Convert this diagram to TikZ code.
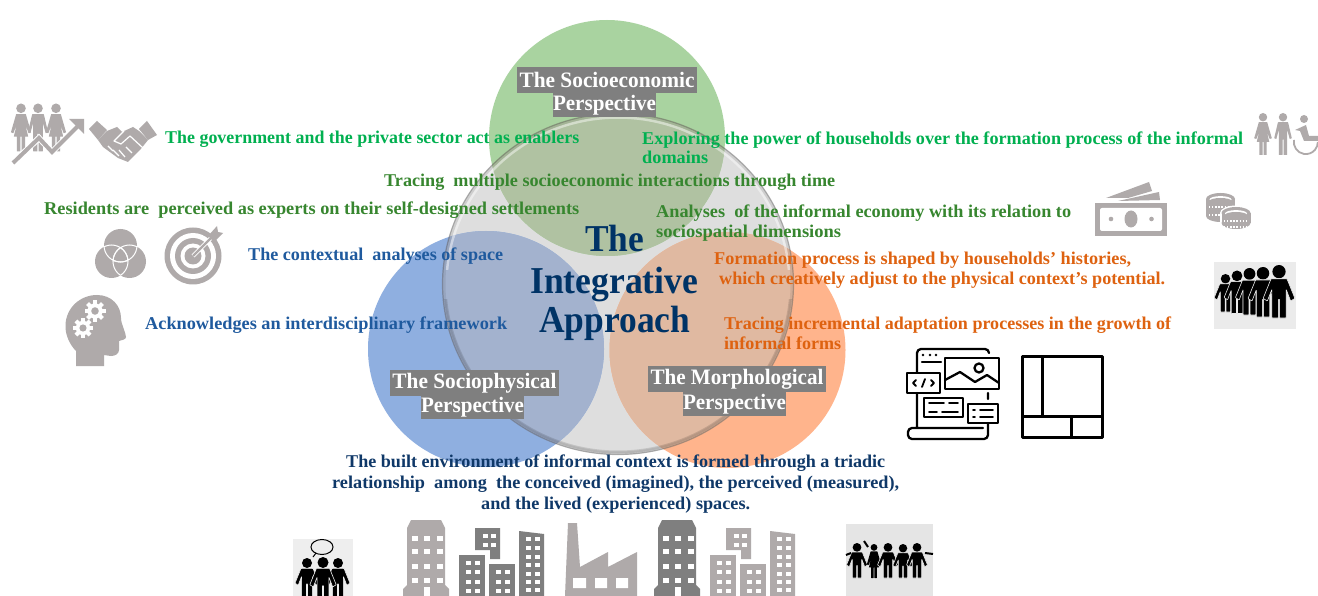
\documentclass[tikz,border=0pt]{standalone}
\usepackage{fontspec}
\usepackage{graphicx}
\setmainfont{Liberation Serif}
\definecolor{gA}{HTML}{00B050}
\definecolor{gB}{HTML}{37862F}
\definecolor{bA}{HTML}{1F5A9E}
\definecolor{oA}{HTML}{DE6210}
\definecolor{nA}{HTML}{0F3868}
\definecolor{tt}{HTML}{003366}
\definecolor{ic}{HTML}{AFAAAA}
\definecolor{icd}{HTML}{7F7F7F}
\definecolor{crowdbg}{HTML}{EBEBEB}
\definecolor{convbg}{HTML}{EEEEEE}
\definecolor{groupbg}{HTML}{E5E5E5}
\definecolor{bigdisc}{HTML}{DEDEDE}
\definecolor{discG}{HTML}{A9D3A0}
\definecolor{discB}{HTML}{8FAFE0}
\definecolor{discO}{HTML}{FFB48C}
\definecolor{lapG}{HTML}{B0C2A2}
\definecolor{lapB}{HTML}{A3B2CE}
\definecolor{lapO}{HTML}{E0B9A1}
\newcommand\txt[6]{\node[inner sep=0pt,anchor=base west,text=#5,font=\bfseries\fontsize{18pt}{20pt}\selectfont] (#1) at (#2,#3) {\resizebox{#4pt}{\height}{#6}};}
\newcommand\lbl[6]{\node[labelbox,minimum width=#4pt,minimum height=#5pt] (#1) at (#2,#3) {#6};}
\newcommand\ttl[5]{\node[inner sep=0pt,anchor=base west,text=tt,font=\bfseries\fontsize{38pt}{40pt}\selectfont] (#1) at (#2,#3) {\resizebox{#4pt}{\height}{#5}};}
% slim standing man
\newcommand\man[4]{\begin{scope}[shift={(#1,#2)},scale=#3]
 \fill[#4] (0,1) circle (1);
 \fill[#4,rounded corners=.3pt] (-1.2,2.2)--(1.2,2.2)--(2.1,6)--(1.6,6.2)--(1,4)--(1,10)--(.12,10)--(.12,6.3)--(-.12,6.3)--(-.12,10)--(-1,10)--(-1,4)--(-1.6,6.2)--(-2.1,6)--cycle;
\end{scope}}
% bulky man (black pictograms)
\newcommand\bulk[5]{\begin{scope}[shift={(#1,#2)},scale=#3]
 \fill[#4] (0,1.25) circle (1.25);
 \filldraw[fill=#4,draw=#5,line width=.6pt,rounded corners=.5pt] (-1.5,2.6)--(1.5,2.6)--(3,6.3)--(2.2,6.8)--(1.35,4.6)--(1.35,10)--(.12,10)--(.12,6.5)--(-.12,6.5)--(-.12,10)--(-1.35,10)--(-1.35,4.6)--(-2.2,6.8)--(-3,6.3)--cycle;
\end{scope}}
\newcommand\woman[4]{\begin{scope}[shift={(#1,#2)},scale=#3]
 \fill[#4] (0,1) circle (1);
 \fill[#4,rounded corners=.2pt] (-1,2.2)--(1,2.2)--(2.1,6)--(1.6,6.2)--(.9,4.4)--(1.5,6.9)--(.85,6.9)--(.85,10)--(.12,10)--(.12,6.9)--(-.12,6.9)--(-.12,10)--(-.85,10)--(-.85,6.9)--(-1.5,6.9)--(-.9,4.4)--(-1.6,6.2)--(-2.1,6)--cycle;
\end{scope}}
\newcommand\gearico[3]{\begin{scope}[shift={(#1,#2)},scale=#3]
 \fill[white] (0,0) circle (.72);
 \foreach \a in {0,45,...,315} {\fill[white,rotate=\a] (-.2,0) rectangle (.2,1);}
 \fill[ic] (0,0) circle (.36);
\end{scope}}
\newcommand\tower[3]{\begin{scope}[shift={(#1,#2)}]
 \fill[#3] (0,69)--(4,65)--(4,8)--(8,0)--(38,0)--(42,8)--(42,65)--(46,69)--(46,76)--(0,76)--cycle;
 \foreach \x in {9,21,34} \foreach \y in {16,29,44,58} {\fill[white] (\x,\y) rectangle +(5.5,5);}
 \fill[white] (21,67) rectangle (26.5,76);
\end{scope}}
\newcommand\bldg[2]{\foreach \x in {#1} \foreach \y in {#2} {\fill[white] (\x,\y) rectangle +(4.8,4.4);}}
\newcommand\city[3]{\begin{scope}[shift={(#1,#2)}]
 \fill[#3] (16,0) rectangle (41,22) (41,22)--(41,31)--(31,31)--(31,22)--cycle;
 \fill[#3] (0,27) rectangle (26,68);
 \fill[#3] (30,36) rectangle (56,68);
 \fill[#3] (60,3)--(85,6)--(85,68)--(60,68)--cycle;
 \bldg{24,32}{6,15}
 \bldg{7,16}{33,42,52,61}
 \bldg{37,46}{42,52,61}
 \bldg{67,76}{9,18,27,35,44,52,60}
\end{scope}}
\newcommand\coinstack[3]{%
 \fill[white] (#1,#2) ellipse (16 and 7.5);
 \fill[white] (#1-16,#2) rectangle (#1+16,#3);
 \fill[white] (#1,#3) ellipse (16 and 7.5);
 \fill[ic] (#1,#2) ellipse (14.5 and 6);
 \fill[ic] (#1-14.5,#2) rectangle (#1+14.5,#3);
 \fill[ic] (#1,#3) ellipse (14.5 and 6);
 \fill[white] (#1,#2+.5) ellipse (11 and 3.4);
 \fill[ic] (#1,#2+2) ellipse (11 and 3);
}
\tikzset{
 labelbox/.style={fill=icd,text=white,inner sep=0pt,font=\bfseries\fontsize{22pt}{23pt}\selectfont},
 webline/.style={draw=black,line width=2.3pt,line cap=round,line join=round},
 coindots/.style={draw=white,line width=1.3pt,dash pattern=on 1.3pt off 1.8pt}
}
\begin{document}
\begin{tikzpicture}[x=1pt,y=-1pt]
\useasboundingbox (0,0) rectangle (1318,596);
\coordinate (cG) at (607,138);
\coordinate (cB) at (486,349);
\coordinate (cO) at (727.5,350);
\coordinate (cI) at (618,284);
\fill[white] (0,0) rectangle (1318,596);
\fill[bigdisc] (cI) ellipse (176 and 171);
\fill[discG] (cG) circle (118);
\fill[discB] (cB) circle (118);
\fill[discO] (cO) circle (118);
\begin{scope}
 \clip (cI) ellipse (176 and 171);
 \fill[lapG] (cG) circle (118);
 \fill[lapB] (cB) circle (118);
 \fill[lapO] (cO) circle (118);
\end{scope}
% glass rim
\draw[draw=black,opacity=.22,line width=1.2pt] (cI) ellipse (175.5 and 170.5);
\draw[draw=black,opacity=.07,line width=3pt] (cI) ellipse (174 and 169);
\begin{scope}
 \clip (400,90) rectangle (840,270);
 \draw[draw=white,opacity=.45,line width=2.5pt] (cI) ellipse (171.5 and 166.5);
\end{scope}
\begin{scope}
 \clip (400,300) rectangle (840,470);
 \draw[draw=black,opacity=.12,line width=3pt] (cI) ellipse (173 and 168);
\end{scope}
% ----- title -----
\ttl{t1}{585}{252}{59}{The}
\ttl{t2}{530}{294}{168}{Integrative}
\ttl{t3}{539}{333}{151}{Approach}
% ----- label boxes -----
\lbl{l1a}{607}{80}{180}{26}{\resizebox{175pt}{\height}{The Socioeconomic}}
\lbl{l1b}{604.5}{105}{103}{24}{\resizebox{103pt}{\height}{Perspective}}
\lbl{l2a}{474.5}{383}{169}{26}{\resizebox{164pt}{\height}{The Sociophysical}}
\lbl{l2b}{472.5}{407.5}{103}{23}{\resizebox{103pt}{\height}{Perspective}}
\lbl{l3a}{737}{379}{178}{26}{\resizebox{173pt}{\height}{The Morphological}}
\lbl{l3b}{734.5}{404}{103}{24}{\resizebox{103pt}{\height}{Perspective}}
% ----- texts -----
\txt{a1}{165}{143.5}{414}{gA}{The government and the private sector act as enablers}
\txt{a2}{642}{144.5}{601}{gA}{Exploring the power of households over the formation process of the informal}
\txt{a3}{642}{163.5}{66}{gA}{domains}
\txt{b1}{384}{187}{451}{gB}{Tracing\ \ multiple socioeconomic interactions through time}
\txt{b2}{44}{215}{535}{gB}{Residents are\ \ perceived as experts on their self-designed settlements}
\txt{b3}{656}{217.5}{415}{gB}{Analyses\ \ of the informal economy with its relation to}
\txt{b4}{656}{237.5}{185}{gB}{sociospatial dimensions}
\txt{c1}{248}{260.5}{255}{bA}{The contextual\ \ analyses of space}
\txt{c2}{145}{329}{362}{bA}{Acknowledges an interdisciplinary framework}
\txt{d1}{714}{265}{417}{oA}{Formation process is shaped by households’ histories,}
\txt{d2}{719}{285}{446}{oA}{which creatively adjust to the physical context’s potential.}
\txt{d3}{724}{329}{447}{oA}{Tracing incremental adaptation processes in the growth of}
\txt{d4}{724}{349.5}{117}{oA}{informal forms}
\txt{e1}{346}{467}{539}{nA}{The built environment of informal context is formed through a triadic}
\txt{e2}{332}{488}{567}{nA}{relationship\ \ among\ \ the conceived (imagined), the perceived (measured),}
\txt{e3}{481}{509}{269}{nA}{and the lived (experienced) spaces.}
% ----- people + arrow -----
\woman{21}{103.5}{4.8}{ic}
\man{38}{103.5}{4.8}{ic}
\woman{56}{103.5}{4.8}{ic}
\draw[draw=white,line width=6pt] (13,163)--(39,138)--(52,152)--(79,125);
\draw[draw=ic,line width=4pt] (13,163)--(39,138)--(52,152)--(79,125);
\fill[ic] (84,119)--(84,134)--(69,119)--cycle;
% handshake
\fill[ic] (89,129)--(97,121)--(107,130)--(98,140)--cycle;
\fill[ic] (147,121)--(157,135)--(148,140)--(139,129)--cycle;
\fill[ic] (107,131)--(117,127)--(122,132)--(133,127)--(139,131)--(148,140)--(140,150)--(128,162)--(118,158)--(103,147)--(98,140)--cycle;
\draw[white,line width=1.2pt,line join=round] (124,131)--(114,141)--(121,144)--(130,136)--(143,148);
\draw[white,line width=1.2pt] (108,146)--(113,151) (113,150)--(119,156) (119,150)--(125,157) (126,147)--(132,153);
% venn
\foreach \p in {(120.5,245.5),(111.5,261.5),(129.5,261.5)} {\fill[ic] \p circle (16.5);}
\begin{scope}
 \clip (120.5,245.5) circle (16.5);
 \draw[white,line width=1pt] (111.5,261.5) circle (16.5) (129.5,261.5) circle (16.5);
\end{scope}
\begin{scope}
 \clip (111.5,261.5) circle (16.5);
 \draw[white,line width=1pt] (120.5,245.5) circle (16.5) (129.5,261.5) circle (16.5);
\end{scope}
\begin{scope}
 \clip (129.5,261.5) circle (16.5);
 \draw[white,line width=1pt] (120.5,245.5) circle (16.5) (111.5,261.5) circle (16.5);
\end{scope}
% target
\fill[ic] (193,256) circle (28.5);
\fill[white] (193,256) circle (23);
\fill[ic] (193,256) circle (18);
\fill[white] (193,256) circle (12.5);
\fill[ic] (193,256) circle (8.5);
\draw[white,line width=4pt] (193,256)--(212,237);
\draw[ic,line width=2.2pt] (193,256)--(212,237);
\fill[ic] (208,236)--(217,226)--(218,232)--(223,233)--(214,242)--cycle;
% head
\fill[ic] (76,366)--(76,351) .. controls (70,345) and (65,335) .. (65.5,325) .. controls (66,308) and (80,295) .. (97,295) .. controls (112,295) and (121,306) .. (121,318) .. controls (121,324) and (126,333) .. (126,337) .. controls (126,340) and (121,340) .. (119,341) -- (119,350) .. controls (119,354) and (115,356) .. (111,356) -- (104,355) -- (104,366) -- cycle;
\gearico{95}{311}{10.5}
\gearico{83}{328}{10}
% right people
\woman{1263}{113}{4.2}{ic}
\man{1283}{113}{4.2}{ic}
\fill[ic] (1304,119) circle (4);
\fill[ic] (1295,130)--(1306,125)--(1309,136)--(1318,136)--(1318,141)--(1304,141)--(1300,131)--cycle;
\draw[ic,line width=1.8pt] (1294,140) arc[start angle=190,end angle=0,radius=12];
% money
\fill[ic] (1095,203) rectangle (1167,236);
\fill[white,rounded corners=2pt] (1100,208) rectangle (1162,231);
\fill[ic] (1131,219) ellipse (6.5 and 8.5);
\fill[ic] (1111,219) circle (2.3);
\fill[ic] (1151.5,219) circle (2.3);
\fill[ic] (1106,198)--(1149,182)--(1152,191)--(1128,198)--cycle;
\fill[ic] (1118,201)--(1159,192)--(1160,200)--cycle;
% coins
\coinstack{1220.5}{199}{216}
\foreach \yy in {206,214} {\draw[coindots] (1209,\yy+1) -- (1232,\yy+1);}
\coinstack{1236}{213}{223}
\foreach \yy in {221,227} {\draw[coindots] (1224,\yy) -- (1248,\yy);}
% crowd
\fill[crowdbg] (1214,262) rectangle (1296,329);
\bulk{1225.5}{274}{3.8}{black}{crowdbg}
\bulk{1237}{270.5}{4.3}{black}{crowdbg}
\bulk{1249.5}{268}{4.7}{black}{crowdbg}
\bulk{1263}{267}{5}{black}{crowdbg}
\bulk{1279}{265}{5.3}{black}{crowdbg}
% web icon
\draw[webline] (917,372)--(917,353) arc[start angle=180,end angle=90,x radius=4,y radius=-4]--(985,349) arc[start angle=90,end angle=0,x radius=4,y radius=-4];
\draw[webline] (922,362)--(941,362);
\fill[black] (923,355) circle (1.3) (930,355) circle (1.3) (936,355) circle (1.3);
\draw[webline] (945,358) rectangle (999,389);
\draw[webline] (945,380)--(960,372)--(975,382)--(987,375)--(999,383);
\draw[webline] (979,368) circle (4.5);
\draw[webline] (907,373) rectangle (940,393);
\draw[webline,line width=1.8pt] (916,380)--(913,383)--(916,386) (931,380)--(934,383)--(931,386) (925,379)--(922,387);
\draw[webline] (924,398) rectangle (963,417);
\draw[webline,line width=1.8pt] (929,403)--(944,403) (949,403)--(958,403) (929,412)--(937,412) (942,412)--(958,412);
\draw[webline] (968,404) rectangle (998,423);
\draw[webline,line width=1.8pt] (973,410)--(975,410) (980,410)--(993,410) (973,417)--(975,417) (980,417)--(993,417);
\draw[webline] (917,393)--(917,428) (988,393)--(988,399) (988,423)--(988,435) arc[start angle=0,end angle=-90,x radius=4,y radius=-4]--(912,439) arc[start angle=-90,end angle=-180,x radius=4,y radius=-4]--(908,432) arc[start angle=180,end angle=90,x radius=4,y radius=-4]--(983,428);
% plan icon
\draw[black,line width=3pt,line join=round] (1022,356) rectangle (1102,437);
\draw[black,line width=3pt] (1042,356)--(1042,416) (1022,416)--(1102,416) (1071,416)--(1071,437);
% ----- bottom row -----
\begin{scope}
\clip (0,500) rectangle (1318,596);
\fill[convbg] (293,539) rectangle (353,596);
\draw[black,line width=1pt] (322,547) ellipse (11 and 7.5);
\draw[black,line width=1pt] (316,553)--(313,557);
\bulk{307}{558}{4}{black}{convbg}
\bulk{338}{558}{4}{black}{convbg}
\bulk{323}{557}{4.4}{black}{convbg}
\tower{403}{520}{ic}
\city{459}{528}{icd}
\fill[ic] (565,596)--(568,523)--(577,523)--(580,567)--(608,552)--(608,567)--(637,552)--(637,596)--cycle;
\fill[white] (573,578) rectangle (586,588) (595,578) rectangle (607,588) (616,578) rectangle (628,588);
\tower{654}{520}{icd}
\city{710}{528}{ic}
\fill[groupbg] (846,524) rectangle (933,596);
\bulk{857}{543}{3.5}{black}{groupbg}
\woman{874}{544}{3.4}{black}
\bulk{888}{543}{3.5}{black}{groupbg}
\bulk{903}{544}{3.4}{black}{groupbg}
\bulk{917}{543}{3.5}{black}{groupbg}
\draw[black,line width=2pt] (846,555)--(851,553) (925,553)--(933,554) (868,547)--(864,541);
\end{scope}
\end{tikzpicture}
\end{document}
